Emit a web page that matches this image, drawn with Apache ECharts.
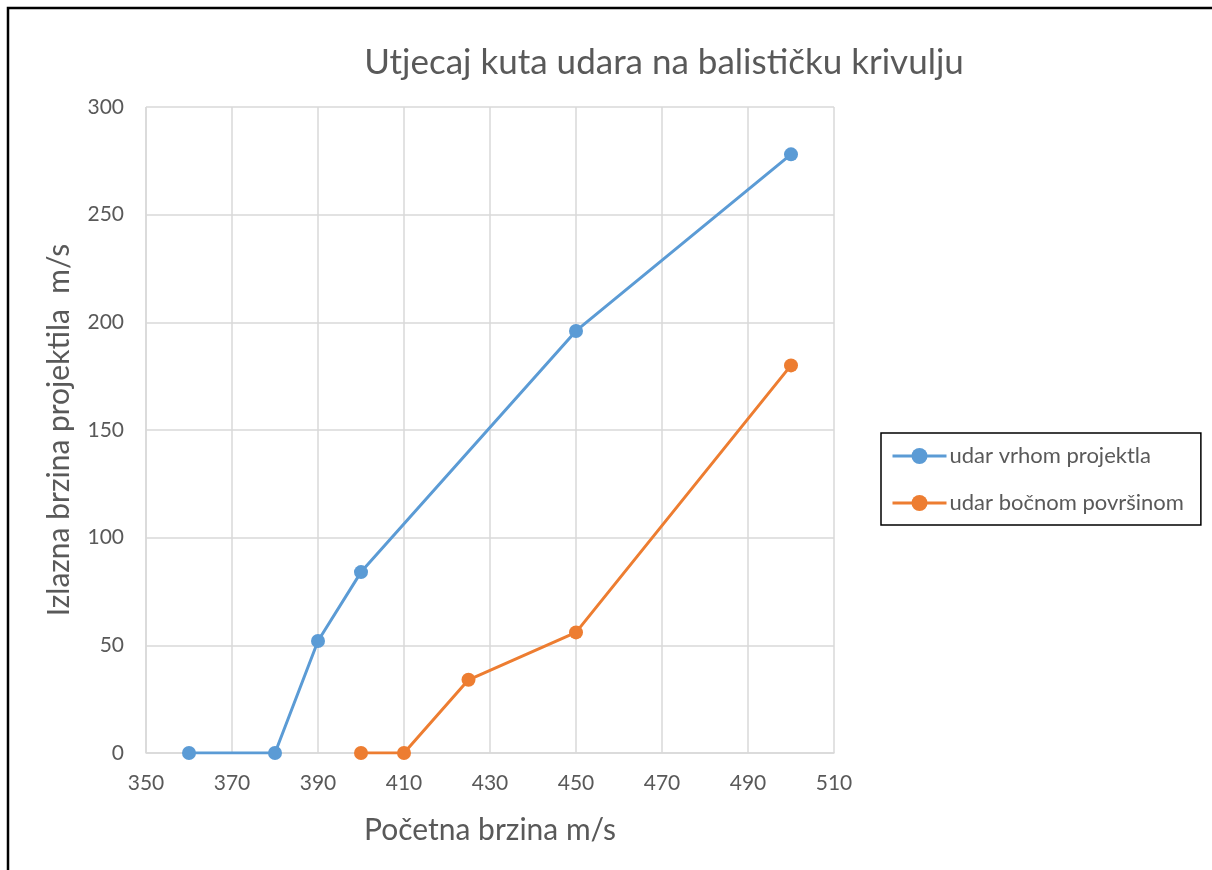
<!DOCTYPE html>
<html>
<head>
<meta charset="utf-8">
<script src="https://cdn.jsdelivr.net/npm/echarts@6/dist/echarts.min.js"></script>
<style>
  html, body { margin: 0; padding: 0; background: #fff; }
  #chart { width: 1212px; height: 870px; }
</style>
</head>
<body>
<div id="chart"></div>
<script>
// podaci
const seriesNames = ['udar vrhom projektla', 'udar bočnom površinom'];
const vrhX = [360, 380, 390, 400, 450, 500];
const vrhY = [0, 0, 52, 84, 196, 278];
const bokX = [400, 410, 425, 450, 500];
const bokY = [0, 0, 34, 56, 180];
const xTicks = [350, 510, 20];   // min, max, interval
const yTicks = [0, 300, 50];

const textColor = '#595959';
const font = 'Lato, "Open Sans", sans-serif';

let myChart = echarts.init(document.getElementById('chart'));

const option = {
  animation: false,
  color: ['#5B9BD5', '#ED7D31'],
  title: {
    text: 'Utjecaj kuta udara na balističku krivulju',
    left: 659,
    top: 40,
    textAlign: 'center',
    textStyle: { color: textColor, fontSize: 35, fontWeight: 'normal', fontFamily: font }
  },
  grid: { left: 146, right: 378, top: 107, bottom: 117 },
  legend: {
    orient: 'vertical',
    left: 881,
    top: 433,
    padding: [12, 17, 11, 10],
    itemWidth: 54,
    itemHeight: 20,
    itemGap: 25,
    borderColor: '#000',
    borderWidth: 1.5,
    lineStyle: { width: 3 },
    textStyle: { color: textColor, fontSize: 22, fontFamily: font, padding: [0, 0, 0, -2] },
    data: seriesNames
  },
  xAxis: {
    type: 'value',
    min: xTicks[0],
    max: xTicks[1],
    interval: xTicks[2],
    name: 'Početna brzina m/s',
    nameLocation: 'middle',
    nameGap: 62,
    nameTextStyle: { color: textColor, fontSize: 30, fontFamily: font },
    axisLine: { show: true, lineStyle: { color: '#d9d9d9', width: 1.5 } },
    axisTick: { show: false },
    axisLabel: { color: textColor, fontSize: 21, fontFamily: font, margin: 20 },
    splitLine: { show: true, lineStyle: { color: '#d9d9d9', width: 1.5 } }
  },
  yAxis: {
    type: 'value',
    min: yTicks[0],
    max: yTicks[1],
    interval: yTicks[2],
    name: 'Izlazna brzina projektila  m/s',
    nameLocation: 'middle',
    nameGap: 72,
    nameTextStyle: { color: textColor, fontSize: 30, fontFamily: font },
    axisLine: { show: false },
    axisTick: { show: false },
    axisLabel: { color: textColor, fontSize: 21, fontFamily: font, margin: 22 },
    splitLine: { show: true, lineStyle: { color: '#d9d9d9', width: 1.5 } }
  },
  series: [
    {
      name: seriesNames[0],
      type: 'line',
      data: vrhX.map((x, i) => [x, vrhY[i]]),
      symbol: 'circle',
      symbolSize: 14,
      lineStyle: { width: 3 }
    },
    {
      name: seriesNames[1],
      type: 'line',
      data: bokX.map((x, i) => [x, bokY[i]]),
      symbol: 'circle',
      symbolSize: 14,
      lineStyle: { width: 3 }
    }
  ],
  graphic: [
    // okvir slike (samo lijevi i gornji rub)
    { type: 'polyline', shape: { points: [[8, 870], [8, 8], [1212, 8]] }, style: { stroke: '#000', lineWidth: 2.5, fill: null } },
    // lijeva granica grafa
    { type: 'line', shape: { x1: 146, y1: 107, x2: 146, y2: 753 }, style: { stroke: '#d9d9d9', lineWidth: 1.5 } }
  ]
};

myChart.setOption(option);
window.onresize = myChart.resize;
</script>
</body>
</html>
